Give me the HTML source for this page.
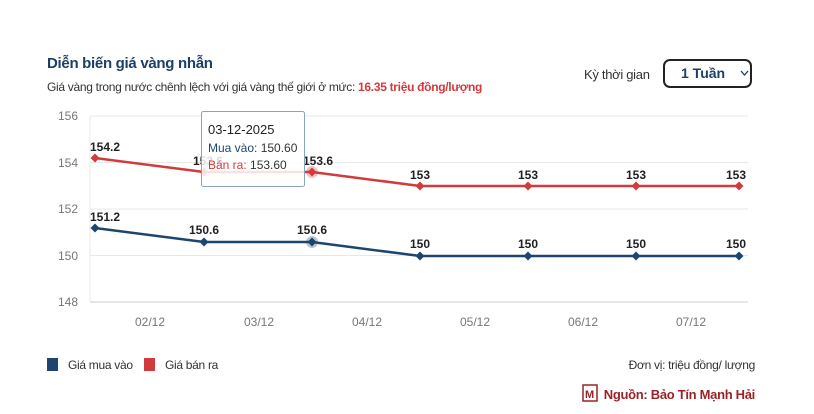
<!DOCTYPE html>
<html><head><meta charset="utf-8"><style>
body{margin:0;width:814px;height:414px;background:#fff;font-family:"Liberation Sans",sans-serif;position:relative;overflow:hidden}
.t{position:absolute;white-space:nowrap}
</style></head><body>
<div class="t" style="left:47px;top:55px;font-size:15px;font-weight:bold;color:#1c3f66;letter-spacing:-0.3px">Diễn biến giá vàng nhẫn</div>
<div class="t" style="left:47px;top:80px;font-size:12px;color:#333;letter-spacing:-0.3px">Giá vàng trong nước chênh lệch với giá vàng thế giới ở mức: <b style="color:#d23b3b">16.35 triệu đồng/lượng</b></div>
<div class="t" style="left:584px;top:67px;font-size:13px;color:#333;letter-spacing:-0.3px">Kỳ thời gian</div>
<div class="t" style="left:663px;top:59px;width:89px;height:29px;border:2px solid #222;border-radius:7px;box-sizing:border-box"></div>
<div class="t" style="left:681px;top:65px;font-size:14px;font-weight:bold;color:#1c3f66">1 Tuần</div>
<svg width="814" height="414" style="position:absolute;left:0;top:0" font-family="Liberation Sans, sans-serif">
<polyline points="741,71 744.5,75 748,71" fill="none" stroke="#1c3f66" stroke-width="1.3"/>
<g stroke="#e8e8e8" stroke-width="1">
<line x1="90" y1="116" x2="748" y2="116"/><line x1="90" y1="162.5" x2="748" y2="162.5"/><line x1="90" y1="209" x2="748" y2="209"/><line x1="90" y1="255.5" x2="748" y2="255.5"/>
<line x1="90" y1="116" x2="90" y2="302"/>
</g>
<line x1="90" y1="302" x2="748" y2="302" stroke="#ccc"/>
<g font-size="12" fill="#777" text-anchor="end"><text x="78" y="120">156</text><text x="78" y="167">154</text><text x="78" y="213">152</text><text x="78" y="260">150</text><text x="78" y="306">148</text></g>
<g font-size="12" fill="#777" text-anchor="middle"><text x="150" y="326">02/12</text><text x="259" y="326">03/12</text><text x="367" y="326">04/12</text><text x="475" y="326">05/12</text><text x="583" y="326">06/12</text><text x="691" y="326">07/12</text></g>
<polyline points="95,158 204,172 312,172 420,186 528,186 636,186 739,186" fill="none" stroke="#d23b3b" stroke-width="2.5"/>
<polyline points="95,228 204,242 312,242 420,256 528,256 636,256 739,256" fill="none" stroke="#1c4670" stroke-width="2.5"/>
<defs><path id="d" d="M0,-4.5L4.5,0L0,4.5L-4.5,0Z"/></defs>
<circle cx="312" cy="172" r="6" fill="#d23b3b" opacity=".3"/><circle cx="312" cy="242" r="6" fill="#1c4670" opacity=".3"/>
<g fill="#d23b3b"><use href="#d" x="95" y="158"/><use href="#d" x="204" y="172"/><use href="#d" x="312" y="172"/><use href="#d" x="420" y="186"/><use href="#d" x="528" y="186"/><use href="#d" x="636" y="186"/><use href="#d" x="739" y="186"/></g>
<g fill="#1c4670"><use href="#d" x="95" y="228"/><use href="#d" x="204" y="242"/><use href="#d" x="312" y="242"/><use href="#d" x="420" y="256"/><use href="#d" x="528" y="256"/><use href="#d" x="636" y="256"/><use href="#d" x="739" y="256"/></g>
<g font-size="12" font-weight="bold" fill="#222" text-anchor="middle">
<text x="105" y="151">154.2</text><text x="208" y="165">153.6</text><text x="318" y="165">153.6</text><text x="420" y="179">153</text><text x="528" y="179">153</text><text x="636" y="179">153</text><text x="736" y="179">153</text>
<text x="105" y="221">151.2</text><text x="204" y="234">150.6</text><text x="312" y="234">150.6</text><text x="420" y="248">150</text><text x="528" y="248">150</text><text x="636" y="248">150</text><text x="736" y="248">150</text></g>
<rect x="201.5" y="111.5" width="103" height="75" fill="#fff" fill-opacity=".85" stroke="#8aa3bd" rx="2"/>
<text x="208" y="134" font-size="13" fill="#222">03-12-2025</text>
<text x="208" y="152" font-size="12" fill="#1c4670">Mua vào: <tspan fill="#333">150.60</tspan></text>
<text x="208" y="169" font-size="12" fill="#d23b3b">Bán ra: <tspan fill="#333">153.60</tspan></text>
<rect x="47" y="358" width="11" height="13" fill="#1c4670"/><text x="68" y="369" font-size="12" fill="#333" letter-spacing="-0.3">Giá mua vào</text>
<rect x="144" y="358" width="11" height="13" fill="#d23b3b"/><text x="165" y="369" font-size="12" fill="#333" letter-spacing="-0.3">Giá bán ra</text>
<text x="755" y="369" font-size="12" fill="#333" text-anchor="end" letter-spacing="-0.3">Đơn vị: triệu đồng/ lượng</text>
<rect x="583" y="385" width="14" height="16" fill="none" stroke="#9b2226" stroke-width="1.5"/><text x="585" y="398" font-size="11" fill="#9b2226" font-weight="bold">M</text>
<text x="755" y="399" font-size="13" font-weight="bold" fill="#9b2226" text-anchor="end" letter-spacing="-0.3">Nguồn: Bảo Tín Mạnh Hải</text>
</svg>
</body></html>
